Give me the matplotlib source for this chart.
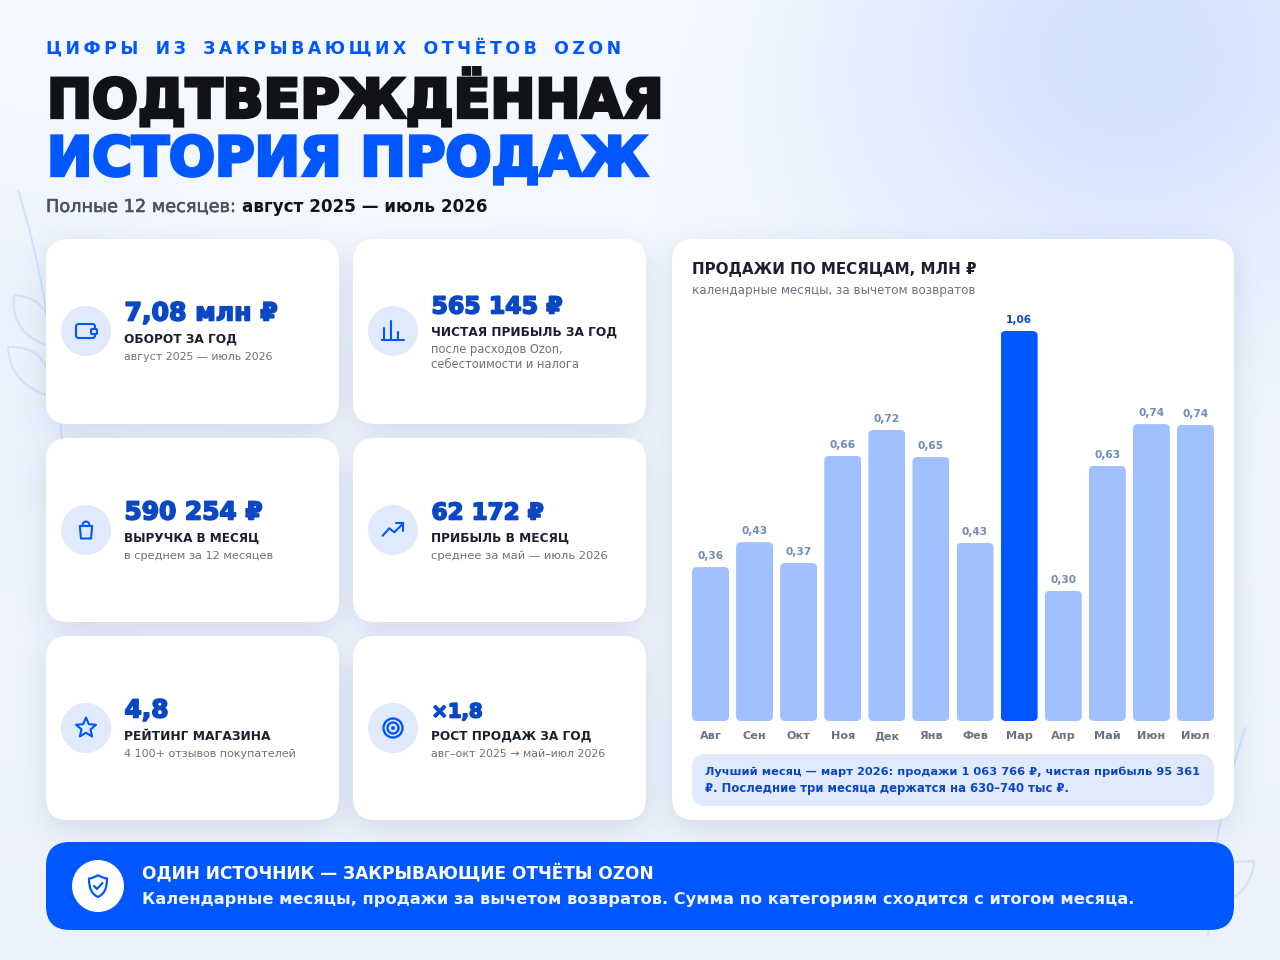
import numpy as np
import matplotlib
matplotlib.use("Agg")
import matplotlib.pyplot as plt
from matplotlib.patches import FancyBboxPatch, Circle, PathPatch, Polygon
from matplotlib.path import Path
from matplotlib.transforms import IdentityTransform
import matplotlib.patheffects as pe

# ---------- data ----------
months = ["Авг", "Сен", "Окт", "Ноя", "Дек", "Янв", "Фев", "Мар", "Апр", "Май", "Июн", "Июл"]
value_labels = ["0,36", "0,43", "0,37", "0,66", "0,72", "0,65", "0,43", "1,06", "0,30", "0,63", "0,74", "0,74"]
# bar heights as drawn in the picture (млн ₽ scale anchored on the March bar)
bar_heights = [0.420, 0.488, 0.431, 0.723, 0.794, 0.720, 0.486, 1.064, 0.355, 0.696, 0.810, 0.808]
highlight = "Мар"

eyebrow = "ЦИФРЫ ИЗ ЗАКРЫВАЮЩИХ ОТЧЁТОВ OZON"
title_1 = "ПОДТВЕРЖДЁННАЯ"
title_2 = "ИСТОРИЯ ПРОДАЖ"
period_a = "Полные 12 месяцев:"
period_b = "август 2025 — июль 2026"

kpi_values = ["7,08 млн ₽", "565 145 ₽", "590 254 ₽", "62 172 ₽", "4,8", "×1,8"]
kpi_names = ["ОБОРОТ ЗА ГОД", "ЧИСТАЯ ПРИБЫЛЬ ЗА ГОД", "ВЫРУЧКА В МЕСЯЦ",
             "ПРИБЫЛЬ В МЕСЯЦ", "РЕЙТИНГ МАГАЗИНА", "РОСТ ПРОДАЖ ЗА ГОД"]
kpi_notes = ["август 2025 — июль 2026", "после расходов Ozon,\nсебестоимости и налога",
             "в среднем за 12 месяцев", "среднее за май — июль 2026",
             "4 100+ отзывов покупателей", "авг–окт 2025 → май–июл 2026"]

chart_title = "ПРОДАЖИ ПО МЕСЯЦАМ, МЛН ₽"
chart_sub = "календарные месяцы, за вычетом возвратов"
note_1 = "Лучший месяц — март 2026: продажи 1 063 766 ₽, чистая прибыль 95 361"
note_2 = "₽. Последние три месяца держатся на 630–740 тыс ₽."
banner_1 = "ОДИН ИСТОЧНИК — ЗАКРЫВАЮЩИЕ ОТЧЁТЫ OZON"
banner_2 = "Календарные месяцы, продажи за вычетом возвратов. Сумма по категориям сходится с итогом месяца."

# ---------- style ----------
BLUE = "#0057ff"
DEEP = "#0a47c4"
INK = "#111317"
NAVY = "#1a2030"
GREY = "#6b7280"
PALE = "#e1eafc"
LIGHTBAR = "#a0c0ff"
LEAF = "#d3e1fb"
FONT = "DejaVu Sans"

W, H = 1280, 960
fig = plt.figure(figsize=(W / 100, H / 100), dpi=100)
bg = fig.add_axes([0, 0, 1, 1], zorder=0)
bg.set_xlim(0, W); bg.set_ylim(H, 0); bg.axis("off")

# ---------- background gradient ----------
yy, xx = np.mgrid[0:H, 0:W]
base_top = np.array([247, 250, 255.0])
base_bot = np.array([236, 242, 252.0])
t = (yy / H)[..., None]
img = base_top * (1 - t) + base_bot * t
g1 = np.exp(-(((xx - 1130) / 290.0) ** 2 + ((yy - 55) / 250.0) ** 2))[..., None]
img = img * (1 - g1) + np.array([211, 226, 254.0]) * g1
g2 = np.exp(-(((xx - 0) / 170.0) ** 2 + ((yy - 360) / 230.0) ** 2))[..., None]
img = img * (1 - g2 * 0.5) + np.array([228, 237, 253.0]) * g2 * 0.5
bg.imshow(img / 255.0, extent=(0, W, H, 0), aspect="auto", zorder=0, interpolation="bilinear")
bg.set_xlim(0, W); bg.set_ylim(H, 0)

# ---------- decorative leaves ----------
def curve(verts, codes):
    bg.add_patch(PathPatch(Path(verts, codes), fc="none", ec=LEAF, lw=1.5, zorder=1))

C3, C4, M, L = Path.CURVE3, Path.CURVE4, Path.MOVETO, Path.LINETO
curve([(18, 190), (50, 290), (62, 440)], [M, C3, C3])
curve([(14, 295), (55, 298), (50, 345)], [M, C3, C3])
curve([(14, 295), (10, 335), (50, 346)], [M, C3, C3])
curve([(8, 347), (52, 345), (50, 395)], [M, C3, C3])
curve([(8, 347), (10, 385), (50, 396)], [M, C3, C3])
curve([(1246, 727), (1212, 820), (1208, 937)], [M, C3, C3])
curve([(1215, 862), (1240, 862), (1254, 861)], [M, C3, C3])
curve([(1254, 861), (1252, 895), (1216, 905)], [M, C3, C3])

# ---------- card shadows ----------
def rr_mask(x0, y0, x1, y1, r):
    cx, cy = (x0 + x1) / 2, (y0 + y1) / 2
    qx = np.abs(xx + 0.5 - cx) - ((x1 - x0) / 2 - r)
    qy = np.abs(yy + 0.5 - cy) - ((y1 - y0) / 2 - r)
    d = np.hypot(np.maximum(qx, 0), np.maximum(qy, 0)) + np.minimum(np.maximum(qx, qy), 0) - r
    return np.clip(0.5 - d, 0, 1)

def box_blur(a, r, axis):
    c = np.cumsum(a, axis=axis)
    pad = [(0, 0), (0, 0)]
    pad[axis] = (r + 1, r)
    c = np.pad(c, pad, mode="edge")
    if axis == 0:
        c[:r + 1, :] = 0
        return (c[2 * r + 1:, :] - c[:-(2 * r + 1), :]) / (2 * r + 1)
    c[:, :r + 1] = 0
    return (c[:, 2 * r + 1:] - c[:, :-(2 * r + 1)]) / (2 * r + 1)

cards = [(46, 239, 339, 424), (353, 239, 646, 424),
         (46, 438, 339, 622), (353, 438, 646, 622),
         (46, 636, 339, 820), (353, 636, 646, 820)]
chart_card = (672, 239, 1234, 820)
shadow = np.zeros((H, W))
for c in cards + [chart_card]:
    shadow = np.maximum(shadow, rr_mask(c[0], c[1] + 9, c[2], c[3] + 9, 22))
for _ in range(3):
    shadow = box_blur(box_blur(shadow, 14, 0), 14, 1)
rgba = np.zeros((H, W, 4))
rgba[..., :3] = np.array([30, 60, 130]) / 255.0
rgba[..., 3] = shadow * 0.14
bg.imshow(rgba, extent=(0, W, H, 0), aspect="auto", zorder=2)
bg.set_xlim(0, W); bg.set_ylim(H, 0)

def rbox(x0, y0, x1, y1, r, color, z=3):
    p = FancyBboxPatch((x0 + r, y0 + r), x1 - x0 - 2 * r, y1 - y0 - 2 * r,
                       boxstyle=f"round,pad={r},rounding_size={r}", fc=color, ec="none", zorder=z)
    bg.add_patch(p)
    return p

for c in cards + [chart_card]:
    rbox(*c, 22, "white")
rbox(692, 754, 1214, 806, 14, PALE, 4)
rbox(46, 842, 1234, 930, 24, BLUE, 4)

# ---------- text helper ----------
renderer = fig.canvas.get_renderer()

def put(x, y, s, px, color, weight="normal", width=None, heavy=0.0, join="round"):
    tx = bg.text(x, y, s, fontsize=px * 0.72, color=color, fontweight=weight, family=FONT,
                 ha="left", va="baseline", zorder=6)
    if width is not None:
        w = tx.get_window_extent(renderer).width
        tx.set_fontsize(px * 0.72 * width / w)
    if heavy:
        tx.set_path_effects([pe.withStroke(linewidth=heavy, foreground=color, joinstyle=join)])
    return tx

# ---------- header ----------
spaced = "\u2003".join("\u2009".join(w) for w in eyebrow.split(" "))
put(46, 54, spaced, 17, BLUE, "bold", width=569)
put(47, 117.5, title_1, 58, INK, "bold", width=617, heavy=2.4, join="miter")
put(47, 175.5, title_2, 58, BLUE, "bold", width=601, heavy=2.4, join="miter")
put(46, 212, period_a, 18, "#4a5160", "normal", width=190, heavy=0.4)
put(242, 212, period_b, 18, "#111418", "bold", width=246)

# ---------- KPI cards ----------
value_base = [320.5, 313.5, 519.5, 519.5, 717.5, 717.5]
value_w = [153, 131, 138, 112, 44, 51]
name_w = [113, 186, 136, 138, 147, 160]
note_w = [149, 132, 149, 176, 171, 175]
for i, (val, name, note) in enumerate(zip(kpi_values, kpi_names, kpi_notes)):
    x = 124 if i % 2 == 0 else 431
    b = value_base[i]
    put(x + 0.5, b, val, 26, DEEP, "bold", width=value_w[i], heavy=1.2)
    put(x, b + 22.5, name, 13, NAVY, "bold", width=name_w[i])
    lines = note.split("\n")
    for k, ln in enumerate(lines):
        if k == 0:
            t0 = put(x, b + 39.5 + 15 * k, ln, 11.5, GREY, width=note_w[i])
            size0 = t0.get_fontsize()
        else:
            t1 = put(x, b + 39.5 + 15 * k, ln, 11.5, GREY)
            t1.set_fontsize(size0)

# ---------- icons ----------
centers = [(86, 331), (393, 331), (86, 530), (393, 530), (86, 728), (393, 728)]
for cx, cy in centers:
    bg.add_patch(Circle((cx, cy), 25, fc=PALE, ec="none", zorder=4))

IC = dict(fc="none", ec=BLUE, lw=1.5, zorder=5, joinstyle="round", capstyle="round")

def line(pts, closed=False, **kw):
    o = dict(IC); o.update(kw)
    bg.add_patch(Polygon(pts, closed=closed, **o))

def icon_box(x0, y0, x1, y1, r, **kw):
    o = dict(IC); o.update(kw)
    bg.add_patch(FancyBboxPatch((x0 + r, y0 + r), x1 - x0 - 2 * r, y1 - y0 - 2 * r,
                                boxstyle=f"round,pad={r},rounding_size={r}", **o))

# wallet
icon_box(76, 324, 95, 338, 2.5)
icon_box(91, 329, 97, 334, 1, fc=PALE)
# bar chart
line([(382, 340), (404, 340)])
for bx, top in zip((384, 391, 397.5), (328, 321, 331.5)):
    line([(bx, 340), (bx, top)])
# bag
line([(79.8, 526), (92.2, 526), (91, 538.5), (81, 538.5)], closed=True)
bg.add_patch(PathPatch(Path([(82.5, 526), (82.5, 520), (89.5, 520), (89.5, 526)],
                            [M, C4, C4, C4]), **IC))
# trend
line([(382.7, 535.7), (389.3, 528.3), (394.3, 532.3), (403.3, 523.3)])
line([(395.7, 523.3), (403.3, 523.3), (403.3, 531)])
# star
cx, cy = centers[4]
star = Path.unit_regular_star(5, 0.45)
verts = np.array([(cx + 10.5 * vx, cy - 10.5 * vy) for vx, vy in star.vertices[:-1]])
bg.add_patch(Polygon(verts, closed=True, **IC))
# target
cx, cy = centers[5]
for r in (9.5, 5.5):
    bg.add_patch(Circle((cx, cy), r, **{**IC, "lw": 1.7}))
bg.add_patch(Circle((cx, cy), 2, fc=BLUE, ec="none", zorder=5))
# shield
bg.add_patch(Circle((98, 886), 26, fc="white", ec="none", zorder=5))
sx, sy = 98, 886
bg.add_patch(PathPatch(Path([(sx, sy - 11), (sx + 4, sy - 8), (sx + 9, sy - 7.5), (sx + 9, sy - 7.5),
                             (sx + 9, sy + 3), (sx + 6, sy + 8), (sx, sy + 11),
                             (sx - 6, sy + 8), (sx - 9, sy + 3), (sx - 9, sy - 7.5),
                             (sx - 4, sy - 8), (sx, sy - 11)],
                            [M, C3, C3, L, C4, C4, C4, C4, C4, C4, C3, C3]),
                       fc="none", ec=BLUE, lw=1.6, zorder=6, joinstyle="round"))
line([(sx - 4, sy), (sx - 1, sy + 3), (sx + 4.5, sy - 3)], lw=1.6, zorder=6)

# ---------- chart ----------
put(692, 274, chart_title, 16, NAVY, "bold", width=286)
put(692, 294, chart_sub, 12.5, GREY, width=284)

x0_px, x1_px, top_px, bot_px = 692, 1214, 331, 721
ax = fig.add_axes([x0_px / W, 1 - bot_px / H, (x1_px - x0_px) / W, (bot_px - top_px) / H], zorder=5)
ax.patch.set_visible(False)
pos = np.arange(len(months))
bar_w = 37 / ((1195.5 - 710.5) / 11)
colors = [BLUE if m == highlight else LIGHTBAR for m in months]
bars = ax.bar(pos, bar_heights, width=bar_w, color=colors, linewidth=0)
ax.set_xlim(-bar_w / 2, len(months) - 1 + bar_w / 2)
ax.set_ylim(0, max(bar_heights))
ax.set_yticks([])
ax.set_xticks(pos, months, fontsize=11.2 * 0.72, fontweight="bold", color=GREY, family=FONT)
ax.tick_params(axis="x", length=0, pad=13)
for lb in ax.get_xticklabels():
    lb.set_va("baseline")
for s in ax.spines.values():
    s.set_visible(False)

fig.canvas.draw()
for rect, m, lab in zip(bars, months, value_labels):
    (xa, ya), (xb, yb) = ax.transData.transform([(rect.get_x(), 0), (rect.get_x() + rect.get_width(), rect.get_height())])
    r = 5
    clip = FancyBboxPatch((xa + r, ya + r), xb - xa - 2 * r, yb - ya - 2 * r,
                          boxstyle=f"round,pad={r},rounding_size={r}")
    clip.set_transform(IdentityTransform())
    rect.set_clip_path(clip)
    ax.annotate(lab, (rect.get_x() + rect.get_width() / 2, rect.get_height()),
                xytext=(0, 4.5), textcoords="offset points", ha="center", va="bottom",
                fontsize=10.5 * 0.72, fontweight="bold", family=FONT,
                color=DEEP if m == highlight else "#6f8ab8", annotation_clip=False)

# ---------- note + banner text ----------
put(705, 775, note_1, 13, DEEP, "bold", width=493)
put(705, 792, note_2, 13, DEEP, "bold", width=365)
put(142, 879, banner_1, 18, "white", "bold", width=512)
put(142, 904, banner_2, 17, "#eef3ff", "bold", width=994)

fig.savefig("out.png", dpi=100)
